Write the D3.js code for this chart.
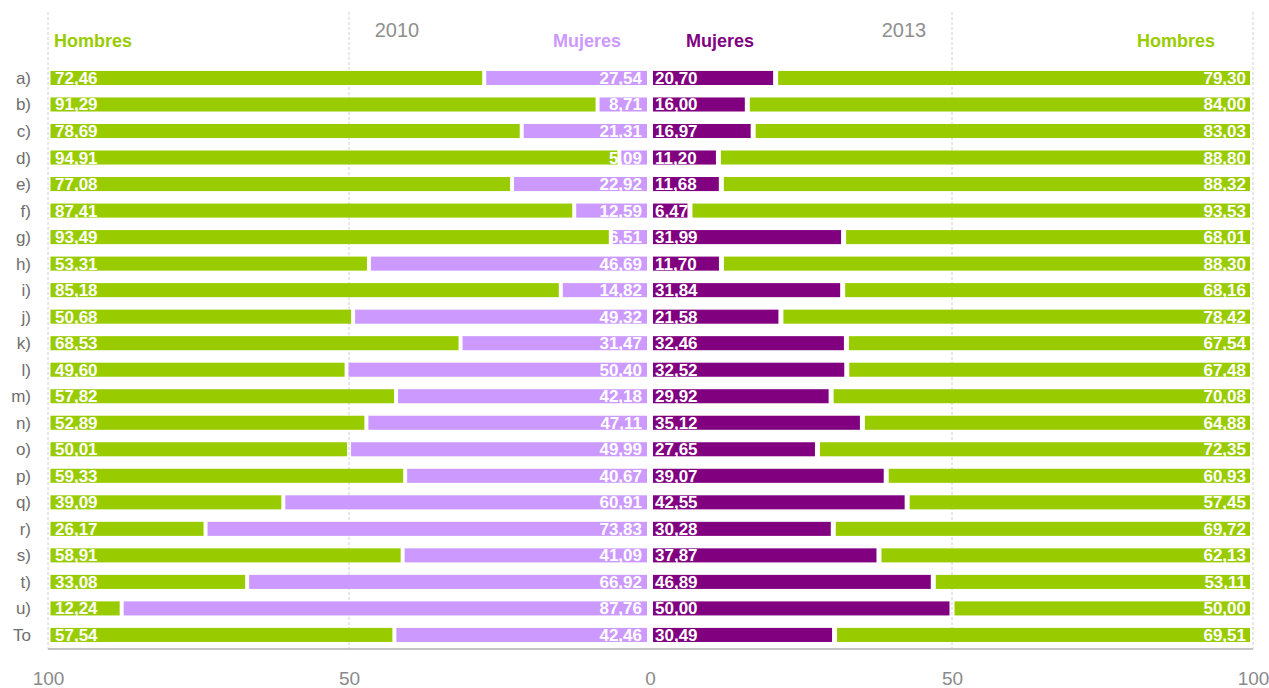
<!DOCTYPE html>
<html>
<head>
<meta charset="utf-8">
<script src="https://cdn.jsdelivr.net/npm/d3@7"></script>
<style>
  html, body { margin: 0; padding: 0; background: #fff; }
  svg { display: block; font-family: "Liberation Sans", Arimo, sans-serif; }
</style>
</head>
<body>
<svg id="chart" width="1269" height="688"></svg>
<script>
// Row categories
const categories = ["a)", "b)", "c)", "d)", "e)", "f)", "g)", "h)", "i)", "j)", "k)",
  "l)", "m)", "n)", "o)", "p)", "q)", "r)", "s)", "t)", "u)", "To"];

// 2010 shares (%)
const hombres2010 = [72.46, 91.29, 78.69, 94.91, 77.08, 87.41, 93.49, 53.31, 85.18, 50.68, 68.53,
  49.60, 57.82, 52.89, 50.01, 59.33, 39.09, 26.17, 58.91, 33.08, 12.24, 57.54];
const mujeres2010 = [27.54, 8.71, 21.31, 5.09, 22.92, 12.59, 6.51, 46.69, 14.82, 49.32, 31.47,
  50.40, 42.18, 47.11, 49.99, 40.67, 60.91, 73.83, 41.09, 66.92, 87.76, 42.46];

// 2013 shares (%)
const mujeres2013 = [20.70, 16.00, 16.97, 11.20, 11.68, 6.47, 31.99, 11.70, 31.84, 21.58, 32.46,
  32.52, 29.92, 35.12, 27.65, 39.07, 42.55, 30.28, 37.87, 46.89, 50.00, 30.49];
const hombres2013 = [79.30, 84.00, 83.03, 88.80, 88.32, 93.53, 68.01, 88.30, 68.16, 78.42, 67.54,
  67.48, 70.08, 64.88, 72.35, 60.93, 57.45, 69.72, 62.13, 53.11, 50.00, 69.51];

const axisTicks = [0, 50, 100];
const years = ["2010", "2013"];

const GREEN = "#99cc00", LILAC = "#cc99ff", PURPLE = "#800080";

const svg = d3.select("#chart");
const fmt = v => d3.format(".2f")(v).replace(".", ",");

// Two mirrored scales meeting at zero in the middle
const xLeft = d3.scaleLinear().domain([0, 100]).range([650, 48]);
const xRight = d3.scaleLinear().domain([0, 100]).range([651, 1253]);

const y = d3.scaleBand().domain(categories).range([64.7, 648.2])
  .paddingInner(0.47).paddingOuter(0.235);

const plotTop = 12, plotBottom = 649;

// Dashed gridlines at 50 and 100 on both sides
const grid = svg.append("g");
[[xLeft, [50, 100]], [xRight, [50, 100]]].forEach(([sc, vals]) => {
  grid.selectAll(null).data(vals).enter().append("line")
    .attr("x1", d => sc(d)).attr("x2", d => sc(d))
    .attr("y1", plotTop).attr("y2", plotBottom)
    .attr("stroke", "#d0d0d0").attr("stroke-width", 1)
    .attr("stroke-dasharray", "3,2");
});

// Segment builder: draw rect between two data values, inset to leave white gaps
function seg(g, sc, a, b, color, yy, inA, inB) {
  const x0 = sc(a), x1 = sc(b);
  const dir = x1 > x0 ? 1 : -1;
  const p0 = x0 + dir * inA, p1 = x1 - dir * inB;
  g.append("rect")
    .attr("x", Math.min(p0, p1)).attr("width", Math.abs(p1 - p0))
    .attr("y", yy).attr("height", y.bandwidth())
    .attr("fill", color);
}

const bars = svg.append("g");
categories.forEach((c, i) => {
  const yy = y(c);
  // 2010: women from the centre outward, men to 100
  seg(bars, xLeft, 0, mujeres2010[i], LILAC, yy, 3, 2);
  seg(bars, xLeft, mujeres2010[i], 100, GREEN, yy, 2, 2.5);
  // 2013
  seg(bars, xRight, 0, mujeres2013[i], PURPLE, yy, 2, 2.5);
  seg(bars, xRight, mujeres2013[i], 100, GREEN, yy, 2.5, 3);
});

// Value labels inside the bars
const labels = svg.append("g")
  .attr("fill", "#fff").attr("font-size", 17).attr("font-weight", "bold");
categories.forEach((c, i) => {
  const cy = y(c) + y.bandwidth() / 2 + 6;
  labels.append("text").attr("x", xLeft(100) + 7).attr("y", cy)
    .attr("text-anchor", "start").text(fmt(hombres2010[i]));
  labels.append("text").attr("x", xLeft(0) - 8).attr("y", cy)
    .attr("text-anchor", "end").text(fmt(mujeres2010[i]));
  labels.append("text").attr("x", xRight(0) + 4).attr("y", cy)
    .attr("text-anchor", "start").text(fmt(mujeres2013[i]));
  labels.append("text").attr("x", xRight(100) - 7).attr("y", cy)
    .attr("text-anchor", "end").text(fmt(hombres2013[i]));
});

// Category labels
svg.append("g").selectAll("text").data(categories).enter().append("text")
  .attr("x", 31).attr("y", d => y(d) + y.bandwidth() / 2 + 6)
  .attr("text-anchor", "end").attr("font-size", 17).attr("fill", "#6e6e6e")
  .text(d => d);

// Baseline
svg.append("line").attr("x1", 48).attr("x2", 1253)
  .attr("y1", plotBottom).attr("y2", plotBottom)
  .attr("stroke", "#b0b0b0").attr("stroke-width", 1.5);

// Axes drawn with d3 (tick text only)
function axisG(sc, vals) {
  const g = svg.append("g").attr("transform", `translate(0,${plotBottom + 22})`)
    .call(d3.axisBottom(sc).tickValues(vals).tickSize(0).tickPadding(0).tickFormat(d3.format("d")));
  g.select(".domain").remove();
  g.selectAll("text").attr("font-size", 19).attr("fill", "#8a8a8a")
    .attr("font-family", "Liberation Sans, Arimo, sans-serif");
}
axisG(xLeft, axisTicks);
axisG(xRight, [50, 100]);

// Year headings
svg.append("text").attr("x", 397).attr("y", 37).attr("text-anchor", "middle")
  .attr("font-size", 20).attr("fill", "#8f8f8f").text(years[0]);
svg.append("text").attr("x", 904).attr("y", 37).attr("text-anchor", "middle")
  .attr("font-size", 20).attr("fill", "#8f8f8f").text(years[1]);

// Series headings
const heads = [
  { t: "Hombres", x: 54, a: "start", c: GREEN },
  { t: "Mujeres", x: 621, a: "end", c: LILAC },
  { t: "Mujeres", x: 686, a: "start", c: PURPLE },
  { t: "Hombres", x: 1215, a: "end", c: GREEN }
];
svg.append("g").selectAll("text").data(heads).enter().append("text")
  .attr("x", d => d.x).attr("y", 47).attr("text-anchor", d => d.a)
  .attr("font-size", 18).attr("font-weight", "bold").attr("fill", d => d.c)
  .text(d => d.t);
</script>
</body>
</html>
